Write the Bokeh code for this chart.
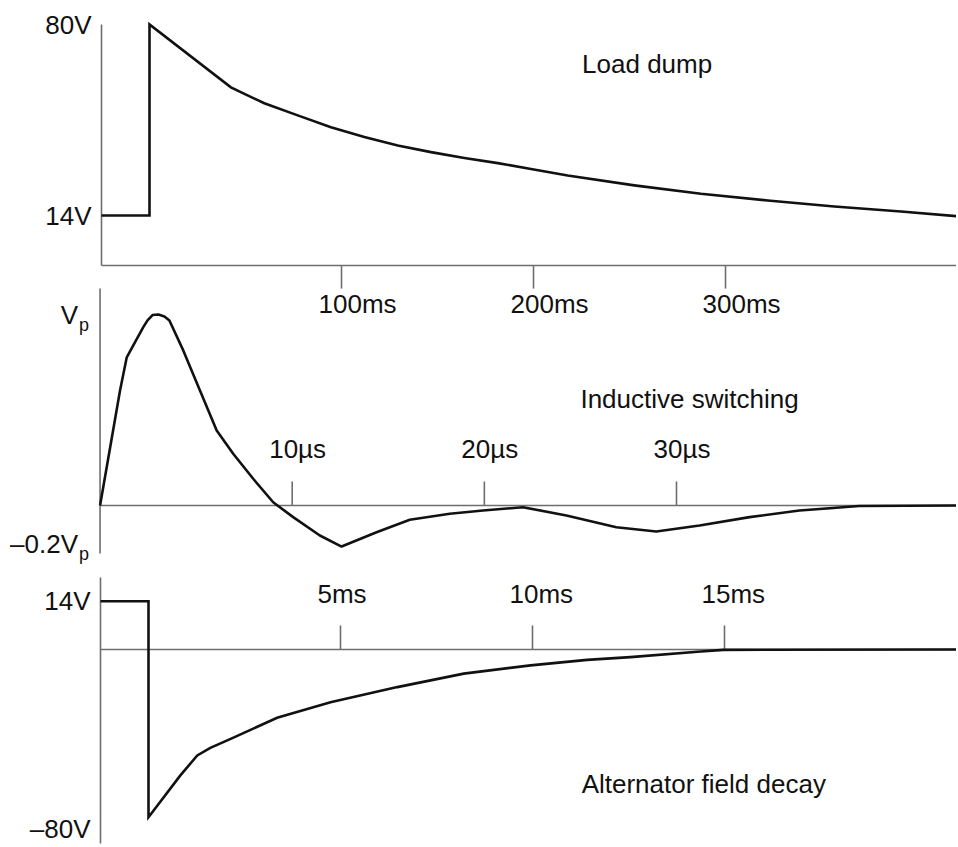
from bokeh.plotting import figure
from bokeh.models import Range1d
from bokeh.core.properties import value
from bokeh.embed import file_html
from bokeh.resources import INLINE

# ---------------- data ----------------
# Panel 1: load dump (time in ms, voltage in V)
dump_t = [-25, 0, 0, 42.4, 51.1, 59.8, 77.2, 94.5, 111.9, 129.3, 146.6, 164.0,
          181.4, 198.7, 217.8, 252.5, 287.2, 322.0, 356.7, 391.4, 421.6]
dump_v = [14, 14, 80, 58.3, 55.5, 52.8, 48.6, 44.5, 41.1, 38.2, 35.9, 33.9,
          32.1, 30.1, 27.8, 24.4, 21.5, 19.2, 17.1, 15.4, 13.7]
dump_ticks = [100, 200, 300]
dump_tick_labels = ["100ms", "200ms", "300ms"]
dump_yticks = [80, 14]
dump_ytick_labels = ["80V", "14V"]

# Panel 2: inductive switching (time in us, voltage as fraction of Vp)
ind_t = [0, 1.04, 1.39, 1.73, 2.25, 2.47, 2.73, 3.04, 3.35, 3.61, 4.33, 5.2,
         6.07, 6.93, 7.97, 9.01, 10.05, 11.44, 12.57, 14.39, 16.12, 18.2, 19.93,
         22.01, 24.27, 26.87, 28.95, 31.2, 33.8, 36.4, 39.5, 44.6]
ind_v = [0, 0.602, 0.776, 0.838, 0.934, 0.969, 0.997, 1.0, 0.99, 0.969, 0.812,
         0.602, 0.393, 0.271, 0.14, 0.017, -0.061, -0.157, -0.215, -0.14, -0.075,
         -0.043, -0.026, -0.009, -0.052, -0.114, -0.136, -0.105, -0.061, -0.026,
         -0.003, 0]
ind_ticks = [10, 20, 30]
ind_tick_labels = ["10\u00b5s", "20\u00b5s", "30\u00b5s"]
ind_yticks = [1.0, -0.2]
ind_ytick_labels = ["V", "\u20130.2V"]
ind_ytick_subs = ["p", "p"]

# Panel 3: alternator field decay (time in ms, voltage in V, schematic scale)
alt_t = [-1.25, 0, 0, 0.83, 1.27, 1.61, 2.14, 3.35, 4.74, 6.48, 8.21, 9.95,
         11.42, 12.55, 14.38, 14.97, 21.1]
alt_v = [14, 14, -48.6, -36.5, -30.7, -28.5, -25.9, -19.8, -15.3, -10.9, -7.0,
         -4.6, -3.0, -2.2, -0.6, -0.1, 0]
alt_ticks = [5, 10, 15]
alt_tick_labels = ["5ms", "10ms", "15ms"]
alt_yticks = [14, -53.9]
alt_ytick_labels = ["14V", "\u201380V"]

titles = ["Load dump", "Inductive switching", "Alternator field decay"]

# ---------------- layout helpers ----------------
W, H = 956, 847
X_LO, X_HI = 0, W        # reference-pixel span shown by the canvas
Y_TOP, Y_BOT = 0, H


def rng(va, pa, vb, pb, lo, hi):
    k = (vb - va) / (pb - pa)
    return Range1d(start=va + (lo - pa) * k, end=va + (hi - pa) * k)


p = figure(width=W, height=H, output_backend="svg", toolbar_location=None,
           x_axis_location=None, y_axis_location=None,
           x_range=Range1d(0, 1), y_range=Range1d(0, 1),
           min_border=0, outline_line_color=None, background_fill_color="white",
           border_fill_color="white")
p.grid.visible = False

p.extra_x_ranges = {
    "x1": rng(100, 341, 300, 725, X_LO, X_HI),
    "x2": rng(10, 291.7, 30, 676, X_LO, X_HI),
    "x3": rng(5, 340, 15, 724, X_LO, X_HI),
}
p.extra_y_ranges = {
    "y1": rng(80, 24, 14, 215, Y_BOT, Y_TOP),
    "y2": rng(1.0, 314, 0.0, 505, Y_BOT, Y_TOP),
    "y3": rng(14, 600.7, 0, 649, Y_BOT, Y_TOP),
}

AX = "#6e6e6e"
INK = "#111111"
FONT = value("Liberation Sans")
FS = "26px"


def axis_lines(xr, yr, xs0, ys0, xs1, ys1):
    p.segment(x0=xs0, y0=ys0, x1=xs1, y1=ys1, line_color=AX, line_width=1.6,
              x_range_name=xr, y_range_name=yr)


def txt(xr, yr, xs, ys, texts, align, xoff=0, yoff=0, size=FS):
    p.text(x=xs, y=ys, text=texts, x_range_name=xr, y_range_name=yr,
           text_font=FONT, text_font_size=size, text_align=align,
           text_baseline="middle", x_offset=xoff, y_offset=yoff, text_color=INK)


# ---- Panel 1 ----
ax1 = -3.3
tick1 = 23 / 2.894
axis_lines("x1", "y1", [-25, -25], [ax1, ax1], [-25, 440], [80, ax1])
axis_lines("x1", "y1", dump_ticks, [ax1] * 3, dump_ticks, [ax1 - tick1] * 3)
p.line(dump_t, dump_v, line_color=INK, line_width=2.6, line_join="miter",
       x_range_name="x1", y_range_name="y1")
txt("x1", "y1", dump_ticks, [ax1 - 38.5 / 2.894] * 3, dump_tick_labels, "left", xoff=-23)
txt("x1", "y1", [-25] * 2, dump_yticks, dump_ytick_labels, "right", xoff=-10)
txt("x1", "y1", [225.3], [66.2], [titles[0]], "left")

# ---- Panel 2 ----
tick2 = 24 / 191
axis_lines("x2", "y2", [0, 0], [1.136, 0], [0, 50], [-0.251, 0])
axis_lines("x2", "y2", ind_ticks, [0] * 3, ind_ticks, [tick2] * 3)
p.line(ind_t, ind_v, line_color=INK, line_width=2.6, line_join="round",
       x_range_name="x2", y_range_name="y2")
txt("x2", "y2", ind_ticks, [56.5 / 191] * 3, ind_tick_labels, "left", xoff=-23)
txt("x2", "y2", [0] * 2, ind_yticks, ind_ytick_labels, "right", xoff=-22)
txt("x2", "y2", [0] * 2, ind_yticks, ind_ytick_subs, "left", xoff=-21, yoff=10, size="18px")
txt("x2", "y2", [25.0], [0.555], [titles[1]], "left")

# ---- Panel 3 ----
tick3 = 24 / 3.45
axis_lines("x3", "y3", [-1.25, -1.25], [20.9, 0], [-1.25, 23], [-56.2, 0])
axis_lines("x3", "y3", alt_ticks, [0] * 3, alt_ticks, [tick3] * 3)
p.line(alt_t, alt_v, line_color=INK, line_width=2.6, line_join="miter",
       x_range_name="x3", y_range_name="y3")
txt("x3", "y3", alt_ticks, [55.5 / 3.45] * 3, alt_tick_labels, "left", xoff=-23)
txt("x3", "y3", [-1.25] * 2, alt_yticks, alt_ytick_labels, "right", xoff=-10, yoff=[0, -6])
txt("x3", "y3", [11.28], [-39.1], [titles[2]], "left")

open("out.html", "w").write(file_html(p, INLINE))
